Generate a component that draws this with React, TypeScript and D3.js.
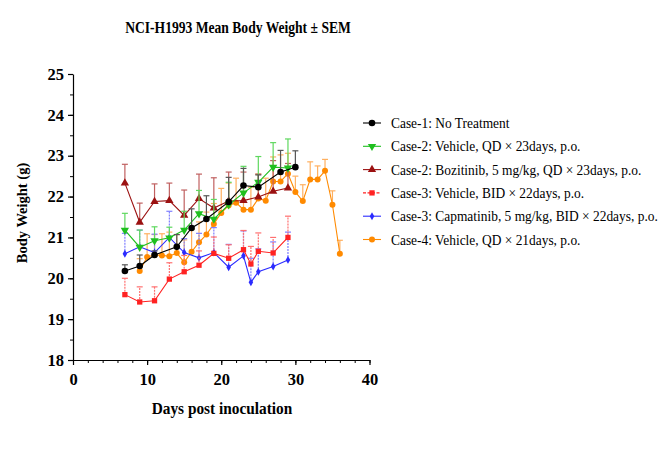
import React, { useRef, useEffect } from 'react'
import * as d3 from 'd3'

// Mean body weight ± SEM, NCI-H1993 xenograft groups.
const case1Days = [7, 9, 11, 14, 16, 18, 21, 23, 25, 28, 30]
const case1Mean = [20.18, 20.3, 20.57, 20.77, 21.23, 21.45, 21.87, 22.27, 22.23, 22.6, 22.72]
const case1Sem = [0.15, 0.27, 0.1, 0.3, 0.47, 0.57, 0.6, 0.42, 0.3, 0.53, 0.4]

const case2VehDays = [7, 9, 11, 13, 15, 17, 19, 21, 23, 25, 27, 29]
const case2VehMean = [21.18, 20.76, 20.92, 20.99, 21.18, 21.58, 21.45, 21.8, 22.09, 22.35, 22.72, 22.7]
const case2VehSem = [0.41, 0.42, 0.34, 0.26, 0.46, 0.57, 0.48, 0.55, 0.65, 0.63, 0.6, 0.71]

const case2BozDays = [7, 9, 11, 13, 15, 17, 19, 21, 23, 25, 27, 29]
const case2BozMean = [22.33, 21.37, 21.88, 21.9, 21.54, 21.95, 21.72, 21.89, 21.9, 21.99, 22.13, 22.21]
const case2BozSem = [0.46, 0.47, 0.43, 0.43, 0.62, 0.6, 0.74, 0.71, 0.7, 0.56, 0.75, 0.6]

const case3VehDays = [7, 9, 11, 13, 15, 17, 19, 21, 23, 24, 25, 27, 29]
const case3VehMean = [19.6, 19.42, 19.45, 19.98, 20.16, 20.32, 20.61, 20.49, 20.7, 20.35, 20.66, 20.62, 21.0]
const case3VehSem = [0.4, 0.37, 0.34, 0.4, 0.4, 0.35, 0.4, 0.33, 0.47, 0.43, 0.45, 0.38, 0.52]

const case3CapDays = [7, 9, 11, 13, 15, 17, 19, 21, 23, 24, 25, 27, 29]
const case3CapMean = [20.6, 20.77, 20.63, 21.0, 20.63, 20.5, 20.63, 20.27, 20.55, 19.9, 20.16, 20.29, 20.45]
const case3CapSem = [0.5, 0.41, 0.45, 0.64, 0.34, 0.6, 0.61, 0.56, 0.61, 0.59, 0.56, 0.6, 0.68]

const case4VehDays = [9, 10, 11, 12, 13, 14, 15, 16, 17, 18, 19, 20, 21, 22, 23, 24, 25, 26, 27, 28, 29, 30, 31, 32, 33, 34, 35, 36]
const case4VehMean = [
  20.18, 20.52, 20.57, 20.56, 20.54, 20.62, 20.39, 20.65, 20.88, 21.07, 21.33, 21.6, 21.78, 21.85,
  21.68, 21.68, 21.95, 21.9, 22.37, 22.37, 22.56, 22.11, 21.89, 22.42, 22.42, 22.63, 21.8, 20.6,
]
const case4VehSem = [
  0.3, 0.57, 0.5, 0.53, 0.59, 0.45, 0.55, 0.55, 0.5, 0.55, 0.5, 0.6, 0.55, 0.6,
  0.6, 0.55, 0.6, 0.55, 0.6, 0.65, 0.5, 0.39, 0.4, 0.43, 0.33, 0.28, 0.34, 0.33,
]

const legendLabels = [
  'Case-1: No Treatment',
  'Case-2: Vehicle, QD × 23days, p.o.',
  'Case-2: Bozitinib, 5 mg/kg, QD × 23days, p.o.',
  'Case-3: Vehicle, BID × 22days, p.o.',
  'Case-3: Capmatinib, 5 mg/kg, BID × 22days, p.o.',
  'Case-4: Vehicle, QD × 21days, p.o.',
]

const xTicks = [0, 10, 20, 30, 40]
const yTicks = [18, 19, 20, 21, 22, 23, 24, 25]

type Series = {
  label: string
  days: number[]
  mean: number[]
  sem: number[]
  color: string
  barColor: string
  marker: 'circle' | 'triDown' | 'triUp' | 'square' | 'diamond' | 'dot'
  dashedBars?: boolean
}

const series: Series[] = [
  { label: legendLabels[0], days: case1Days, mean: case1Mean, sem: case1Sem, color: '#000000', barColor: '#555555', marker: 'circle' },
  { label: legendLabels[1], days: case2VehDays, mean: case2VehMean, sem: case2VehSem, color: '#1fbf1f', barColor: '#5fd85f', marker: 'triDown' },
  { label: legendLabels[2], days: case2BozDays, mean: case2BozMean, sem: case2BozSem, color: '#9b1111', barColor: '#c06060', marker: 'triUp' },
  { label: legendLabels[3], days: case3VehDays, mean: case3VehMean, sem: case3VehSem, color: '#ff2222', barColor: '#ff7070', marker: 'square', dashedBars: true },
  { label: legendLabels[4], days: case3CapDays, mean: case3CapMean, sem: case3CapSem, color: '#2b2bff', barColor: '#7f7fff', marker: 'diamond', dashedBars: true },
  { label: legendLabels[5], days: case4VehDays, mean: case4VehMean, sem: case4VehSem, color: '#ff8a00', barColor: '#ffb060', marker: 'dot' },
]

// draw order: orange underneath, black on top
const drawOrder = [5, 4, 3, 2, 1, 0]

const FONT = "'Liberation Serif', 'Times New Roman', serif"

function markerPath(kind: Series['marker']): string | null {
  switch (kind) {
    case 'triDown':
    case 'triUp':
      return d3.symbol(d3.symbolTriangle, 30)()
    case 'square':
      return d3.symbol(d3.symbolSquare, 28)()
    case 'diamond':
      return d3.symbol(d3.symbolDiamond, 18)()
    default:
      return null
  }
}

export default function App() {
  const svgRef = useRef<SVGSVGElement | null>(null)

  useEffect(() => {
    const svg = d3.select(svgRef.current)
    svg.selectAll('*').remove()

    const x = d3.scaleLinear().domain([0, 40]).range([73, 369.5])
    const y = d3.scaleLinear().domain([18, 25]).range([360, 74])

    svg.append('rect').attr('width', 666).attr('height', 449).attr('fill', '#fff')

    // Title (type is set slightly condensed)
    svg.append('text')
      .attr('transform', 'translate(238,33) scale(0.85,1)')
      .attr('text-anchor', 'middle')
      .style('font-family', FONT).style('font-weight', 'bold').style('font-size', '16px')
      .text('NCI-H1993 Mean Body Weight ± SEM')

    // Axes (major + minor ticks)
    const styleAxis = (g: d3.Selection<SVGGElement, unknown, null, undefined>) => {
      g.attr('font-family', FONT).attr('font-size', 16.5).attr('font-weight', 'bold')
      g.select('.domain').attr('stroke', '#000').attr('stroke-width', 1.2)
      g.selectAll('.tick line').attr('stroke', '#000').attr('stroke-width', 1.2)
      g.selectAll('.tick text').attr('fill', '#000')
    }

    svg.append('g')
      .attr('transform', 'translate(0,360)')
      .call(d3.axisBottom(x).tickValues(d3.range(0, 41, 2)).tickSize(3).tickFormat(() => '').tickSizeOuter(0))
      .call((g) => { g.select('.domain').remove(); g.selectAll('.tick line').attr('stroke', '#000') })
    svg.append('g')
      .attr('transform', 'translate(0,360)')
      .call(d3.axisBottom(x).tickValues(xTicks).tickSize(5).tickPadding(8).tickSizeOuter(0).tickFormat(d3.format('d')))
      .call(styleAxis)

    svg.append('g')
      .attr('transform', 'translate(73,0)')
      .call(d3.axisLeft(y).tickValues(d3.range(18, 25.01, 0.5)).tickSize(3).tickFormat(() => '').tickSizeOuter(0))
      .call((g) => { g.select('.domain').remove(); g.selectAll('.tick line').attr('stroke', '#000') })
    svg.append('g')
      .attr('transform', 'translate(73,0)')
      .call(d3.axisLeft(y).tickValues(yTicks).tickSize(5).tickPadding(4).tickSizeOuter(0).tickFormat(d3.format('d')))
      .call(styleAxis)

    // Axis titles
    svg.append('text')
      .attr('transform', 'translate(222,414) scale(0.93,1)')
      .attr('text-anchor', 'middle')
      .style('font-family', FONT).style('font-weight', 'bold').style('font-size', '16.5px')
      .text('Days post inoculation')
    svg.append('text')
      .attr('transform', 'translate(27,213) rotate(-90)')
      .attr('text-anchor', 'middle')
      .style('font-family', FONT).style('font-weight', 'bold').style('font-size', '14.5px')
      .text('Body Weight (g)')

    const drawMarker = (g: d3.Selection<SVGGElement, unknown, null, undefined>, s: Series, cx: number, cy: number) => {
      if (s.marker === 'circle') {
        g.append('circle').attr('cx', cx).attr('cy', cy).attr('r', 3.3).attr('fill', s.color)
      } else if (s.marker === 'dot') {
        g.append('circle').attr('cx', cx).attr('cy', cy).attr('r', 3).attr('fill', s.color)
      } else {
        const rot = s.marker === 'triDown' ? 180 : 0
        g.append('path')
          .attr('d', markerPath(s.marker))
          .attr('transform', `translate(${cx},${cy}) rotate(${rot})`)
          .attr('fill', s.color)
      }
    }

    const plot = svg.append('g')

    drawOrder.forEach((idx) => {
      const s = series[idx]
      const g = plot.append('g')
      // error bars (upper only, with caps)
      s.days.forEach((d, i) => {
        const cx = x(d)
        const top = y(s.mean[i] + s.sem[i])
        g.append('line')
          .attr('x1', cx).attr('x2', cx)
          .attr('y1', y(s.mean[i])).attr('y2', top)
          .attr('stroke', s.barColor).attr('stroke-width', 1.2)
          .attr('stroke-dasharray', s.dashedBars ? '2,1' : null)
        g.append('line')
          .attr('x1', cx - 3).attr('x2', cx + 3)
          .attr('y1', top).attr('y2', top)
          .attr('stroke', s.barColor).attr('stroke-width', 1.2)
      })
      // connecting line
      const pts = s.days.map((d, i) => [x(d), y(s.mean[i])] as [number, number])
      g.append('path')
        .attr('d', d3.line()(pts))
        .attr('fill', 'none')
        .attr('stroke', s.color)
        .attr('stroke-width', 1.1)
      s.days.forEach((d, i) => drawMarker(g, s, x(d), y(s.mean[i])))
    })

    // Legend
    const legend = svg.append('g')
    series.forEach((s, i) => {
      const ly = 123 + i * 23.3
      legend.append('line')
        .attr('x1', 363).attr('x2', 381).attr('y1', ly).attr('y2', ly)
        .attr('stroke', s.color).attr('stroke-width', 1.1)
        .attr('stroke-dasharray', s.marker === 'square' ? '3,1.5' : null)
      drawMarker(legend, s, 372, ly)
      legend.append('text')
        .attr('transform', `translate(391,${ly + 5}) scale(0.895,1)`)
        .style('font-family', FONT).style('font-size', '15px')
        .attr('fill', '#000')
        .text(s.label)
    })
  }, [])

  return (
    <svg
      ref={svgRef}
      width={666}
      height={449}
      viewBox="0 0 666 449"
      style={{ position: 'absolute', left: 0, top: 0 }}
    />
  )
}
